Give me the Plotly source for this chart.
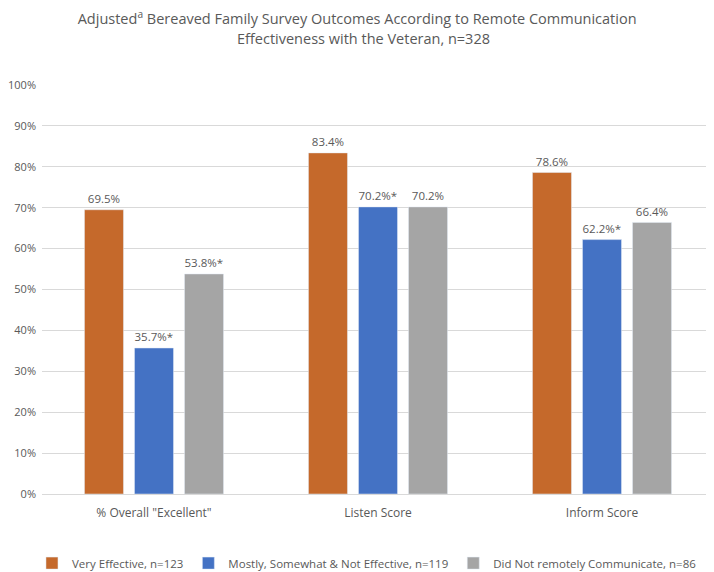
import plotly.graph_objects as go

categories = ['% Overall "Excellent"', "Listen Score", "Inform Score"]
series_names = ["Very Effective, n=123",
                "Mostly, Somewhat &amp; Not Effective, n=119",
                "Did Not remotely Communicate, n=86"]
very_effective = [69.5, 83.4, 78.6]
mostly_not = [35.7, 70.2, 62.2]
did_not = [53.8, 70.2, 66.4]
very_labels = ["69.5%", "83.4%", "78.6%"]
mostly_labels = ["35.7%*", "70.2%*", "62.2%*"]
did_not_labels = ["53.8%*", "70.2%", "66.4%"]
colors = ["#C5692B", "#4472C4", "#A5A5A5"]
y_ticks = list(range(0, 101, 10))
y_ticktext = [f"{v}%" for v in y_ticks]
title_line1 = "Adjusted<sup>a</sup> Bereaved Family Survey Outcomes According to Remote Communication"
title_line2 = "Effectiveness with the Veteran, n=328"

font_family = "Open Sans, Noto Sans, sans-serif"
text_color = "#595959"

fig = go.Figure()
for name, vals, labels, col in zip(series_names,
                                   [very_effective, mostly_not, did_not],
                                   [very_labels, mostly_labels, did_not_labels],
                                   colors):
    fig.add_trace(go.Bar(
        x=categories, y=vals, name=name, marker_color=col,
        text=labels, textposition="outside", cliponaxis=False,
        textfont=dict(size=12, color=text_color, family=font_family),
    ))

fig.update_layout(
    width=714, height=572,
    margin=dict(l=34, r=8, t=77, b=86, autoexpand=False),
    paper_bgcolor="white", plot_bgcolor="white",
    barmode="group", bargap=0.33, bargroupgap=0.22,
    font=dict(family=font_family, color=text_color, size=11),
    title=dict(
        text=title_line1,
        x=0.489, xanchor="center", y=0.9808, yanchor="middle",
        font=dict(size=14.5, color=text_color, family=font_family),
    ),
    legend=dict(orientation="h", x=0.4836, xanchor="center", y=-0.169,
                yanchor="middle", font=dict(size=11.5, color=text_color),
                itemwidth=30),
    showlegend=True,
    uniformtext=dict(minsize=8, mode="show"),
)
fig.add_annotation(text=title_line2, xref="paper", yref="paper",
                   x=0.479, xanchor="center",
                   y=1.1149, yanchor="middle", showarrow=False,
                   font=dict(size=14.5, color=text_color, family=font_family))
fig.update_yaxes(range=[0, 100], tickvals=y_ticks, ticktext=y_ticktext,
                 showgrid=True, gridcolor="#D9D9D9", gridwidth=1,
                 zeroline=False, showline=False, ticks="", ticklen=0,
                 automargin=False, ticklabelstandoff=5,
                 tickfont=dict(size=11, color=text_color))
fig.update_xaxes(showline=True, linecolor="#D9D9D9", linewidth=1,
                 ticks="", automargin=False, ticklabelstandoff=8,
                 tickfont=dict(size=12, color=text_color))

fig.write_html("out.html")
